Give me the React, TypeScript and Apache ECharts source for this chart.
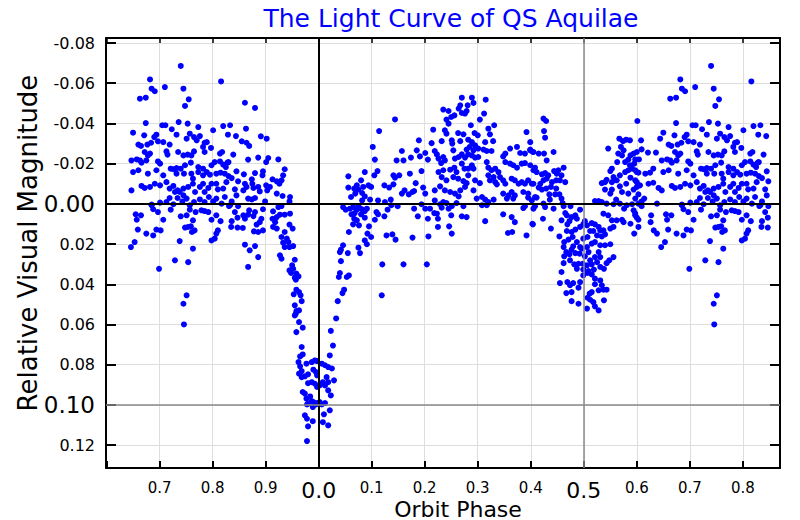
import React, { useEffect, useRef } from "react";
import * as echarts from "echarts";

// ---------- texts ----------
const chartTitle = "The Light Curve of QS Aquilae";
const xAxisTitle = "Orbit Phase";
const yAxisTitle = "Relative Visual Magnitude";

// ---------- axis ranges (phase is shown from 0.6 → 1.0 → 0.87) ----------
const phaseMin = -0.401;
const phaseMax = 0.87;
const firstLabelledPhase = -0.35;
const magMin = -0.0825;
const magMax = 0.1314;
const emphasisedPhases = [0, 0.5];
const emphasisedMags = [0, 0.1];

// ---------- observations: [orbit phase (0..1), relative visual magnitude] ----------
const ingress: number[][] = [
  [0.861,-0.0503],[0.880,-0.0477],[0.863,-0.0374],[0.855,-0.0311],[0.864,-0.0304],[0.869,-0.0288],[0.891,-0.0336],[0.902,-0.0324],
  [0.867,-0.0220],[0.886,-0.0230],[0.905,-0.0228],[0.901,-0.0208],[0.924,-0.0221],[0.936,-0.0172],[0.933,-0.0142],[0.859,-0.0147],
  [0.880,-0.0153],[0.895,-0.0162],[0.894,-0.0142],[0.913,-0.0122],[0.861,-0.0100],[0.864,-0.0084],[0.858,-0.0067],[0.874,-0.0122],
  [0.875,-0.0100],[0.877,-0.0079],[0.886,-0.0084],[0.889,-0.0062],[0.901,-0.0092],[0.903,-0.0067],[0.908,-0.0084],[0.921,-0.0112],
  [0.926,-0.0100],[0.930,-0.0117],[0.921,-0.0051],[0.932,-0.0039],[0.946,-0.0034],[0.945,-0.0012],[0.867,-0.0026],[0.874,-0.0022],
  [0.880,-0.0029],[0.899,-0.0012],[0.861,0.0074],[0.858,0.0057],[0.869,0.0032],[0.867,0.0054],[0.880,0.0041],[0.877,0.0061],
  [0.895,0.0027],[0.892,0.0074],[0.889,0.0091],[0.914,0.0037],[0.913,0.0074],[0.918,0.0091],[0.921,0.0066],[0.927,0.0054],
  [0.936,0.0054],[0.924,0.0016],[0.930,0.0011],[0.946,0.0049],[0.945,0.0103],[0.951,0.0123],[0.857,0.0120],[0.883,0.0103],
  [0.878,0.0137],[0.886,0.0140],[0.895,0.0132],[0.914,0.0115],[0.921,0.0123],[0.930,0.0165],[0.936,0.0140],[0.940,0.0173],
  [0.943,0.0190],[0.933,0.0193],[0.936,0.0215],[0.945,0.0215],[0.952,0.0210],[0.861,0.0203],[0.870,0.0231],[0.880,0.0210],
  [0.927,0.0256],[0.867,0.0314],[0.886,0.0265],[0.930,0.0273],[0.955,0.0278],[0.950,0.0306],[0.952,0.0323],[0.945,0.0331],
  [0.948,0.0344],[0.958,0.0347],[0.962,0.0361],[0.955,0.0367],[0.957,0.0377],[0.958,0.0427],[0.963,0.0439],[0.953,0.0450],
  [0.966,0.0455],[0.968,0.0484],[0.955,0.0505],[0.958,0.0533],[0.963,0.0530],[0.955,0.0555],[0.957,0.0546],[0.963,0.0588],
  [0.970,0.0616],[0.958,0.0638],
];

const primaryMinimum: number[][] = [
  [0.968,0.0712],[0.965,0.0759],[0.970,0.0749],[0.962,0.0787],[0.965,0.0808],[0.968,0.0832],[0.963,0.0845],[0.977,0.0795],
  [0.987,0.0787],[0.993,0.0779],[0.997,0.0782],[0.006,0.0795],[0.012,0.0803],[0.018,0.0812],[0.968,0.0862],[0.974,0.0858],
  [0.980,0.0848],[0.990,0.0825],[0.995,0.0837],[0.997,0.0853],[0.987,0.0887],[0.980,0.0892],[0.993,0.0895],[0.997,0.0911],
  [0.002,0.0903],[0.008,0.0887],[0.012,0.0903],[0.015,0.0862],[0.018,0.0887],[0.018,0.0928],[0.970,0.0936],[0.974,0.0944],
  [0.984,0.0958],[0.977,0.0969],[0.987,0.0981],[0.980,0.0994],[0.978,0.0998],[0.990,0.0986],[0.997,0.0991],[0.002,0.0986],
  [0.006,0.0998],[0.012,0.0991],[0.995,0.0998],[0.989,0.1011],[0.974,0.1052],[0.978,0.1069],[0.989,0.1081],[0.980,0.1107],
  [0.010,0.1047],[0.008,0.1086],[0.018,0.1102],[0.978,0.1180],[0.023,0.0632],[0.027,0.0705],[0.021,0.0754],[0.025,0.0819],
  [0.029,0.0878],[0.023,0.0953],[0.021,0.1027],[0.033,0.0570],
];

const egress: number[][] = [
  [0.144,-0.0420],[0.114,-0.0362],[0.102,-0.0283],[0.106,-0.0220],[0.189,-0.0316],[0.185,-0.0266],[0.157,-0.0263],[0.201,-0.0253],
  [0.174,-0.0230],[0.191,-0.0236],[0.206,-0.0220],[0.147,-0.0216],[0.160,-0.0216],[0.056,-0.0137],[0.087,-0.0158],[0.111,-0.0163],
  [0.105,-0.0142],[0.141,-0.0142],[0.144,-0.0130],[0.152,-0.0142],[0.172,-0.0150],[0.194,-0.0163],[0.183,-0.0103],[0.080,-0.0117],
  [0.072,-0.0092],[0.094,-0.0092],[0.099,-0.0084],[0.056,-0.0081],[0.067,-0.0076],[0.075,-0.0071],[0.084,-0.0084],[0.082,-0.0054],
  [0.124,-0.0092],[0.133,-0.0081],[0.141,-0.0097],[0.162,-0.0067],[0.157,-0.0051],[0.170,-0.0047],[0.177,-0.0059],[0.180,-0.0064],
  [0.197,-0.0081],[0.201,-0.0051],[0.061,-0.0034],[0.069,-0.0051],[0.087,-0.0037],[0.097,-0.0021],[0.082,-0.0017],[0.112,-0.0017],
  [0.125,-0.0009],[0.136,-0.0021],[0.137,0.0007],[0.130,0.0029],[0.149,0.0012],[0.194,0.0002],[0.180,0.0024],[0.187,0.0062],
  [0.206,0.0074],[0.046,0.0016],[0.051,0.0029],[0.059,0.0024],[0.065,0.0016],[0.072,0.0029],[0.075,0.0012],[0.081,0.0026],
  [0.087,0.0036],[0.091,0.0024],[0.062,0.0052],[0.068,0.0046],[0.080,0.0052],[0.067,0.0074],[0.072,0.0082],[0.076,0.0107],
  [0.065,0.0102],[0.087,0.0069],[0.095,0.0112],[0.099,0.0165],[0.092,0.0148],[0.106,0.0079],[0.109,0.0041],[0.112,0.0052],
  [0.124,0.0062],[0.128,0.0157],[0.139,0.0152],[0.145,0.0178],[0.177,0.0168],[0.207,0.0162],[0.057,0.0140],[0.046,0.0206],
  [0.042,0.0228],[0.040,0.0240],[0.055,0.0245],[0.075,0.0218],[0.078,0.0245],[0.087,0.0182],[0.091,0.0201],[0.042,0.0285],
  [0.040,0.0344],[0.038,0.0364],[0.053,0.0364],[0.057,0.0356],[0.120,0.0301],[0.160,0.0301],[0.204,0.0301],[0.048,0.0427],
  [0.045,0.0444],[0.036,0.0484],[0.119,0.0455],
];

const firstMaximum: number[][] = [
  [0.270,-0.0528],[0.289,-0.0528],[0.292,-0.0502],[0.281,-0.0490],[0.267,-0.0490],[0.315,-0.0518],[0.235,-0.0469],[0.245,-0.0462],
  [0.264,-0.0474],[0.279,-0.0462],[0.276,-0.0449],[0.270,-0.0452],[0.256,-0.0440],[0.250,-0.0432],[0.241,-0.0419],[0.245,-0.0399],
  [0.312,-0.0449],[0.304,-0.0419],[0.216,-0.0369],[0.238,-0.0366],[0.241,-0.0349],[0.263,-0.0352],[0.273,-0.0346],[0.287,-0.0391],
  [0.294,-0.0352],[0.300,-0.0341],[0.320,-0.0374],[0.331,-0.0391],[0.323,-0.0346],[0.392,-0.0357],[0.213,-0.0302],[0.232,-0.0312],
  [0.251,-0.0316],[0.252,-0.0300],[0.267,-0.0312],[0.282,-0.0319],[0.289,-0.0307],[0.314,-0.0307],[0.329,-0.0312],[0.295,-0.0291],
  [0.285,-0.0283],[0.279,-0.0270],[0.292,-0.0266],[0.301,-0.0275],[0.311,-0.0270],[0.219,-0.0263],[0.223,-0.0246],[0.226,-0.0225],
  [0.235,-0.0233],[0.238,-0.0216],[0.254,-0.0266],[0.257,-0.0225],[0.264,-0.0233],[0.270,-0.0246],[0.276,-0.0230],[0.282,-0.0246],
  [0.289,-0.0241],[0.295,-0.0230],[0.301,-0.0233],[0.317,-0.0263],[0.326,-0.0263],[0.352,-0.0250],[0.361,-0.0275],[0.374,-0.0283],
  [0.380,-0.0253],[0.389,-0.0250],[0.399,-0.0270],[0.405,-0.0258],[0.231,-0.0203],[0.235,-0.0167],[0.226,-0.0158],[0.248,-0.0170],
  [0.256,-0.0180],[0.260,-0.0158],[0.270,-0.0200],[0.275,-0.0175],[0.282,-0.0175],[0.289,-0.0192],[0.292,-0.0175],[0.317,-0.0208],
  [0.320,-0.0180],[0.326,-0.0167],[0.333,-0.0175],[0.339,-0.0158],[0.348,-0.0236],[0.352,-0.0208],[0.361,-0.0200],[0.367,-0.0192],
  [0.374,-0.0180],[0.383,-0.0200],[0.389,-0.0203],[0.399,-0.0192],[0.408,-0.0180],[0.232,-0.0133],[0.241,-0.0117],[0.229,-0.0087],
  [0.254,-0.0133],[0.263,-0.0125],[0.273,-0.0113],[0.276,-0.0084],[0.279,-0.0103],[0.282,-0.0142],[0.295,-0.0117],[0.304,-0.0103],
  [0.320,-0.0142],[0.323,-0.0117],[0.330,-0.0133],[0.333,-0.0108],[0.336,-0.0097],[0.342,-0.0133],[0.348,-0.0117],[0.352,-0.0100],
  [0.364,-0.0125],[0.370,-0.0117],[0.377,-0.0100],[0.383,-0.0108],[0.389,-0.0100],[0.395,-0.0117],[0.402,-0.0100],[0.219,-0.0067],
  [0.238,-0.0067],[0.248,-0.0059],[0.257,-0.0051],[0.264,-0.0037],[0.267,-0.0067],[0.292,-0.0067],[0.298,-0.0026],[0.308,-0.0034],
  [0.314,-0.0021],[0.330,-0.0021],[0.348,-0.0051],[0.358,-0.0042],[0.364,-0.0059],[0.370,-0.0042],[0.367,-0.0026],[0.355,-0.0026],
  [0.386,-0.0059],[0.395,-0.0051],[0.395,-0.0031],[0.408,-0.0034],[0.201,0.0024],[0.210,0.0024],[0.219,-0.0017],[0.229,0.0002],
  [0.235,-0.0009],[0.241,-0.0004],[0.232,0.0019],[0.245,0.0024],[0.251,0.0012],[0.250,0.0057],[0.260,-0.0004],[0.273,0.0012],
  [0.270,0.0062],[0.279,0.0066],[0.308,0.0007],[0.317,0.0007],[0.320,-0.0009],[0.314,0.0086],[0.348,0.0052],[0.364,0.0066],
  [0.370,0.0091],[0.386,0.0021],[0.389,0.0012],[0.405,0.0024],[0.403,0.0099],[0.357,0.0145],[0.365,0.0140],[0.392,0.0157],
  [0.246,0.0112],[0.251,0.0148],[0.225,0.0115],[0.223,0.0049],[0.225,0.0074],[0.218,0.0046],
];

const secondaryMinimum: number[][] = [
  [0.424,-0.0424],[0.429,-0.0412],[0.425,-0.0362],[0.427,-0.0329],[0.399,-0.0307],[0.399,-0.0266],[0.404,-0.0258],[0.415,-0.0250],
  [0.425,-0.0250],[0.430,-0.0216],[0.443,-0.0258],[0.405,-0.0167],[0.411,-0.0158],[0.421,-0.0147],[0.427,-0.0153],[0.433,-0.0142],
  [0.430,-0.0125],[0.444,-0.0163],[0.449,-0.0150],[0.452,-0.0167],[0.462,-0.0180],[0.458,-0.0142],[0.455,-0.0117],[0.448,-0.0117],
  [0.440,-0.0108],[0.424,-0.0117],[0.418,-0.0100],[0.405,-0.0100],[0.415,-0.0081],[0.421,-0.0071],[0.429,-0.0076],[0.438,-0.0084],
  [0.448,-0.0076],[0.465,-0.0108],[0.435,-0.0047],[0.446,-0.0047],[0.458,-0.0026],[0.454,-0.0047],[0.460,-0.0004],[0.436,-0.0021],
  [0.411,-0.0031],[0.402,-0.0017],[0.424,-0.0001],[0.408,0.0012],[0.427,0.0016],[0.443,0.0024],[0.462,0.0012],[0.475,0.0012],
  [0.493,0.0029],[0.465,0.0046],[0.468,0.0057],[0.477,0.0066],[0.473,0.0086],[0.484,0.0057],[0.487,0.0074],[0.499,0.0102],
  [0.502,0.0086],[0.506,0.0107],[0.515,0.0096],[0.521,0.0102],[0.528,0.0115],[0.531,0.0132],[0.518,0.0135],[0.512,0.0135],
  [0.525,0.0157],[0.534,0.0162],[0.540,0.0152],[0.537,0.0132],[0.493,0.0115],[0.484,0.0128],[0.477,0.0140],[0.468,0.0135],
  [0.469,0.0102],[0.458,0.0082],[0.423,0.0074],[0.404,0.0102],[0.438,0.0123],[0.454,0.0162],[0.463,0.0190],[0.471,0.0178],
  [0.479,0.0165],[0.487,0.0190],[0.493,0.0215],[0.499,0.0173],[0.507,0.0165],[0.515,0.0198],[0.521,0.0190],[0.531,0.0206],
  [0.540,0.0206],[0.550,0.0201],[0.556,0.0265],[0.548,0.0281],[0.462,0.0215],[0.467,0.0240],[0.463,0.0261],[0.473,0.0251],
  [0.480,0.0211],[0.477,0.0228],[0.484,0.0245],[0.492,0.0248],[0.496,0.0223],[0.506,0.0215],[0.509,0.0240],[0.502,0.0261],
  [0.512,0.0281],[0.521,0.0265],[0.528,0.0240],[0.531,0.0265],[0.525,0.0290],[0.515,0.0301],[0.506,0.0306],[0.498,0.0298],
  [0.490,0.0298],[0.482,0.0301],[0.487,0.0323],[0.499,0.0327],[0.509,0.0334],[0.519,0.0327],[0.531,0.0314],[0.538,0.0323],
  [0.543,0.0295],[0.462,0.0295],[0.474,0.0281],[0.458,0.0339],[0.455,0.0394],[0.469,0.0389],[0.474,0.0405],[0.480,0.0394],
  [0.493,0.0389],[0.499,0.0356],[0.507,0.0344],[0.515,0.0351],[0.521,0.0372],[0.531,0.0381],[0.534,0.0405],[0.537,0.0427],
  [0.543,0.0427],[0.528,0.0430],[0.521,0.0400],[0.515,0.0439],[0.511,0.0447],[0.490,0.0417],[0.477,0.0439],[0.467,0.0444],
  [0.477,0.0484],[0.490,0.0497],[0.507,0.0467],[0.512,0.0477],[0.518,0.0489],[0.521,0.0510],[0.506,0.0521],[0.528,0.0530],
  [0.538,0.0480],
];

const secondMaximum: number[][] = [
  [0.601,-0.0412],[0.546,-0.0275],[0.567,-0.0324],[0.574,-0.0312],[0.580,-0.0319],[0.587,-0.0316],[0.570,-0.0283],[0.565,-0.0250],
  [0.575,-0.0266],[0.572,-0.0241],[0.588,-0.0241],[0.594,-0.0250],[0.600,-0.0258],[0.584,-0.0220],[0.578,-0.0208],[0.587,-0.0192],
  [0.595,-0.0200],[0.563,-0.0208],[0.553,-0.0175],[0.550,-0.0163],[0.556,-0.0133],[0.543,-0.0120],[0.540,-0.0108],[0.553,-0.0108],
  [0.562,-0.0117],[0.568,-0.0142],[0.578,-0.0158],[0.584,-0.0167],[0.591,-0.0175],[0.600,-0.0158],[0.588,-0.0130],[0.597,-0.0117],
  [0.580,-0.0100],[0.568,-0.0087],[0.572,-0.0059],[0.553,-0.0071],[0.550,-0.0051],[0.561,-0.0021],[0.584,-0.0051],[0.594,-0.0071],
  [0.600,-0.0084],[0.603,-0.0047],[0.534,-0.0103],[0.540,-0.0071],[0.521,-0.0014],[0.528,-0.0014],[0.534,-0.0009],[0.543,-0.0001],
  [0.556,0.0002],[0.568,-0.0001],[0.576,0.0024],[0.581,0.0007],[0.591,0.0002],[0.594,0.0032],[0.597,0.0057],[0.537,0.0049],
  [0.546,0.0057],[0.553,0.0082],[0.562,0.0082],[0.572,0.0079],[0.550,0.0123],[0.556,0.0115],[0.575,0.0091],[0.588,0.0099],
  [0.595,0.0148],[0.603,0.0115],
  [0.740,-0.0686],[0.682,-0.0619],[0.816,-0.0609],[0.710,-0.0581],[0.685,-0.0573],[0.691,-0.0560],[0.745,-0.0573],[0.663,-0.0523],
  [0.674,-0.0528],[0.755,-0.0520],[0.748,-0.0487],[0.674,-0.0402],[0.705,-0.0391],[0.711,-0.0391],[0.736,-0.0407],[0.753,-0.0399],
  [0.773,-0.0382],[0.820,-0.0387],[0.833,-0.0391],[0.650,-0.0354],[0.671,-0.0341],[0.690,-0.0332],[0.694,-0.0344],[0.723,-0.0371],
  [0.732,-0.0344],[0.757,-0.0349],[0.765,-0.0332],[0.776,-0.0337],[0.801,-0.0366],[0.829,-0.0344],[0.844,-0.0337],[0.608,-0.0316],
  [0.644,-0.0324],[0.660,-0.0295],[0.665,-0.0288],[0.677,-0.0295],[0.684,-0.0304],[0.697,-0.0311],[0.707,-0.0307],[0.719,-0.0295],
  [0.751,-0.0324],[0.770,-0.0316],[0.785,-0.0304],[0.789,-0.0307],[0.797,-0.0278],[0.782,-0.0283],[0.609,-0.0271],[0.621,-0.0255],
  [0.636,-0.0255],[0.672,-0.0258],[0.678,-0.0241],[0.682,-0.0250],[0.713,-0.0261],[0.715,-0.0245],[0.735,-0.0258],[0.745,-0.0241],
  [0.753,-0.0245],[0.760,-0.0241],[0.765,-0.0261],[0.785,-0.0258],[0.814,-0.0250],[0.818,-0.0258],[0.839,-0.0245],[0.597,-0.0221],
  [0.604,-0.0221],[0.647,-0.0216],[0.657,-0.0221],[0.663,-0.0216],[0.666,-0.0205],[0.675,-0.0216],[0.697,-0.0211],[0.701,-0.0200],
  [0.721,-0.0175],[0.732,-0.0178],[0.748,-0.0192],[0.759,-0.0205],[0.773,-0.0183],[0.782,-0.0175],[0.798,-0.0192],[0.804,-0.0208],
  [0.814,-0.0211],[0.820,-0.0195],[0.825,-0.0183],[0.828,-0.0205],[0.830,-0.0208],[0.597,-0.0167],[0.603,-0.0155],[0.616,-0.0150],
  [0.625,-0.0155],[0.631,-0.0175],[0.650,-0.0158],[0.660,-0.0167],[0.678,-0.0150],[0.694,-0.0167],[0.707,-0.0142],[0.726,-0.0172],
  [0.732,-0.0150],[0.740,-0.0175],[0.746,-0.0150],[0.760,-0.0150],[0.763,-0.0125],[0.773,-0.0158],[0.782,-0.0142],[0.789,-0.0158],
  [0.795,-0.0145],[0.807,-0.0150],[0.815,-0.0155],[0.823,-0.0150],[0.830,-0.0138],[0.836,-0.0128],[0.845,-0.0162],[0.848,-0.0112],
  [0.600,-0.0108],[0.606,-0.0092],[0.622,-0.0100],[0.631,-0.0105],[0.641,-0.0079],[0.647,-0.0067],[0.666,-0.0089],[0.672,-0.0079],
  [0.682,-0.0084],[0.691,-0.0100],[0.701,-0.0092],[0.713,-0.0108],[0.719,-0.0076],[0.726,-0.0089],[0.729,-0.0059],[0.734,-0.0067],
  [0.738,-0.0059],[0.745,-0.0076],[0.745,-0.0042],[0.754,-0.0084],[0.763,-0.0100],[0.767,-0.0059],[0.776,-0.0084],[0.782,-0.0100],
  [0.785,-0.0059],[0.792,-0.0079],[0.798,-0.0100],[0.807,-0.0100],[0.810,-0.0072],[0.820,-0.0076],[0.823,-0.0034],[0.826,-0.0108],
  [0.842,-0.0072],[0.845,-0.0042],[0.597,-0.0026],[0.603,-0.0001],[0.609,-0.0012],[0.614,-0.0026],[0.638,-0.0001],[0.685,0.0004],
  [0.688,0.0027],[0.701,-0.0006],[0.713,-0.0009],[0.719,-0.0029],[0.734,-0.0029],[0.743,-0.0012],[0.751,-0.0026],[0.757,0.0007],
  [0.765,-0.0009],[0.776,-0.0022],[0.785,-0.0009],[0.793,-0.0034],[0.801,-0.0012],[0.807,-0.0026],[0.817,-0.0001],[0.831,0.0011],
  [0.836,-0.0012],[0.597,0.0049],[0.600,0.0069],[0.603,0.0079],[0.609,0.0012],[0.627,0.0057],[0.626,0.0091],[0.632,0.0132],
  [0.638,0.0148],[0.646,0.0215],[0.653,0.0190],[0.655,0.0052],[0.665,0.0057],[0.657,0.0079],[0.659,0.0128],[0.675,0.0148],
  [0.688,0.0157],[0.694,0.0128],[0.702,0.0132],[0.699,0.0323],[0.685,0.0007],[0.707,0.0079],[0.697,0.0041],[0.721,0.0029],
  [0.726,0.0002],[0.738,0.0185],[0.729,0.0281],[0.754,0.0290],[0.763,0.0223],[0.740,0.0062],[0.751,0.0057],[0.748,0.0118],
  [0.754,0.0115],[0.759,0.0112],[0.761,0.0140],[0.766,0.0132],[0.763,0.0082],[0.768,0.0041],[0.757,0.0029],[0.751,0.0455],
  [0.745,0.0497],[0.746,0.0600],[0.779,0.0032],[0.785,0.0036],[0.792,0.0041],[0.798,0.0079],[0.807,0.0148],[0.810,0.0132],
  [0.804,0.0173],[0.798,0.0182],[0.815,0.0086],[0.807,0.0057],[0.833,0.0007],[0.842,0.0041],[0.847,0.0069],[0.836,0.0086],
  [0.835,0.0115],[0.847,0.0118],[0.848,0.0012],
];

// phases that are drawn twice: once as they are and once one cycle earlier
const repeatFrom = 0.645;
const repeatUpTo = 0.855;

function foldObservations(): number[][] {
  const all = [...ingress, ...primaryMinimum, ...egress, ...firstMaximum, ...secondaryMinimum, ...secondMaximum];
  const out: number[][] = [];
  for (const [phase, mag] of all) {
    if (phase < repeatUpTo) out.push([phase, mag]);
    if (phase >= repeatFrom) out.push([phase - 1, mag]);
  }
  return out;
}

const FONT = "DejaVu Sans";

export default function App() {
  const ref = useRef<HTMLDivElement>(null);
  useEffect(() => {
    if (!ref.current) return;
    const chart = echarts.init(ref.current, undefined, { renderer: "svg" });
    const isNear = (a: number, list: number[]) => list.some((b) => Math.abs(a - b) < 1e-6);
    const xLabel = (v: number) => {
      const r = Math.round(v * 10) / 10;
      if (r < firstLabelledPhase) return "";
      const ph = ((r % 1) + 1) % 1;
      const s = ph.toFixed(1);
      return isNear(r, emphasisedPhases) ? `{big|${s}}` : s;
    };
    const yLabel = (v: number) => {
      const r = Math.round(v * 100) / 100;
      const s = (r === 0 ? 0 : r).toFixed(2);
      return isNear(r, emphasisedMags) ? `{big|${s}}` : s;
    };
    const axisLine = { show: true, onZero: false, lineStyle: { color: "#000", width: 2 } };
    const gridLine = { show: true, lineStyle: { color: "#dedede", width: 1 } };
    const option: any = {
      animation: false,
      backgroundColor: "#fff",
      grid: { left: 106, right: 20, top: 38, bottom: 52, containLabel: false },
      xAxis: [
        {
          type: "value", min: phaseMin, max: phaseMax, splitNumber: 12, position: "bottom",
          axisLine, axisTick: { show: true, inside: true, length: 7, lineStyle: { color: "#000", width: 2 } },
          splitLine: gridLine,
          axisLabel: {
            show: true, margin: 11, color: "#000", fontSize: 15, lineHeight: 17, fontFamily: FONT,
            showMinLabel: false, showMaxLabel: false, formatter: xLabel,
            rich: { big: { fontSize: 22, lineHeight: 22, fontFamily: FONT, color: "#000" } },
          },
        },
        {
          type: "value", min: phaseMin, max: phaseMax, splitNumber: 12, position: "top",
          axisLine, axisTick: { show: true, inside: true, length: 5, lineStyle: { color: "#000", width: 1.5 } },
          splitLine: { show: false }, axisLabel: { show: false },
        },
      ],
      yAxis: [
        {
          type: "value", min: magMin, max: magMax, splitNumber: 10, inverse: true, position: "left",
          axisLine, axisTick: { show: true, inside: true, length: 10, lineStyle: { color: "#000", width: 2 } },
          splitLine: gridLine,
          axisLabel: {
            show: true, margin: 11, color: "#000", fontSize: 16, fontFamily: FONT,
            showMinLabel: false, showMaxLabel: false, formatter: yLabel,
            rich: { big: { fontSize: 23, fontFamily: FONT, color: "#000" } },
          },
        },
        {
          type: "value", min: magMin, max: magMax, splitNumber: 10, inverse: true, position: "right",
          axisLine, axisTick: { show: true, inside: true, length: 10, lineStyle: { color: "#000", width: 2 } },
          splitLine: { show: false }, axisLabel: { show: false },
        },
      ],
      graphic: [
        {
          type: "text", x: 451, y: 18, silent: true,
          style: { text: chartTitle, fill: "#0000ff", fontSize: 25, fontFamily: FONT, align: "center", verticalAlign: "middle" },
        },
        {
          type: "text", x: 458, y: 509, silent: true,
          style: { text: xAxisTitle, fill: "#000", fontSize: 22, fontFamily: FONT, align: "center", verticalAlign: "middle" },
        },
        {
          type: "text", x: 28, y: 243, rotation: Math.PI / 2, silent: true,
          style: { text: yAxisTitle, fill: "#000", fontSize: 26, fontFamily: FONT, align: "center", verticalAlign: "middle" },
        },
      ],
      series: [
        {
          type: "line", data: [], xAxisIndex: 0, yAxisIndex: 0, z: 1, silent: true,
          markLine: {
            silent: true, symbol: "none", label: { show: false }, animation: false,
            lineStyle: { type: "solid" },
            data: [
              ...emphasisedPhases.map((p, i) => ({ xAxis: p, lineStyle: { type: "solid", color: i === 0 ? "#000" : "#8a8a8a", width: i === 0 ? 2 : 1.5 } })),
              ...emphasisedMags.map((m, i) => ({ yAxis: m, lineStyle: { type: "solid", color: i === 0 ? "#000" : "#8a8a8a", width: i === 0 ? 2 : 1.5 } })),
            ],
          },
        },
        {
          type: "scatter", data: foldObservations(), xAxisIndex: 0, yAxisIndex: 0, z: 3,
          symbol: "circle", symbolSize: 6, itemStyle: { color: "#0000ff", opacity: 1 },
        },
      ],
    };
    chart.setOption(option);
    return () => chart.dispose();
  }, []);
  return <div ref={ref} style={{ position: "fixed", left: 0, top: 0, width: 800, height: 520, background: "#fff" }} />;
}
